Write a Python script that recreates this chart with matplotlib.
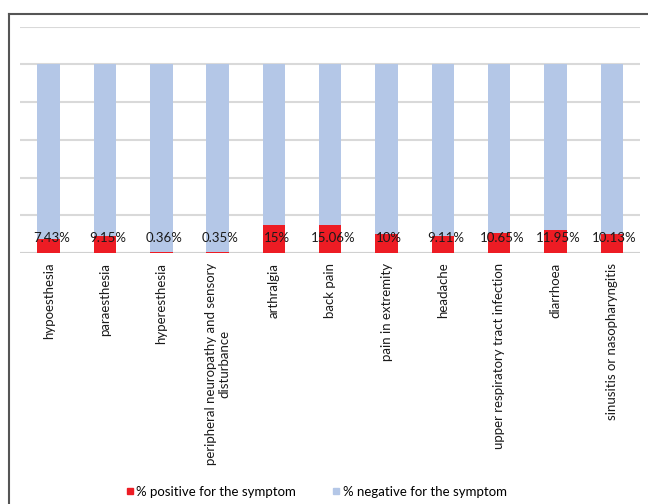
import matplotlib
matplotlib.use("Agg")
import matplotlib.pyplot as plt
from matplotlib.lines import Line2D
import numpy as np

categories = ["hypoesthesia", "paraesthesia", "hyperesthesia",
              "peripheral neuropathy and sensory\ndisturbance", "arthralgia",
              "back pain", "pain in extremity", "headache",
              "upper respiratory tract infection", "diarrhoea",
              "sinusitis or nasopharyngitis"]
positive = [7.43, 9.15, 0.36, 0.35, 15, 15.06, 10, 9.11, 10.65, 11.95, 10.13]
labels = ["7.43%", "9.15%", "0.36%", "0.35%", "15%", "15.06%", "10%",
          "9.11%", "10.65%", "11.95%", "10.13%"]
negative = [100 - p for p in positive]
series_names = ["% positive for the symptom", "% negative for the symptom"]

RED = "#ED1C24"
BLUE = "#B4C7E7"

plt.rcParams['font.family'] = ['Lato', 'DejaVu Sans']

fig = plt.figure(figsize=(6.48, 5.04), dpi=100)
ax = fig.add_axes([0.0316, 0.498, 0.956, 0.449])

x = np.arange(len(categories))
ax.bar(x, positive, width=0.4, color=RED, zorder=3, label=series_names[0])
ax.bar(x, negative, width=0.4, bottom=positive, color=BLUE, zorder=3,
       label=series_names[1])

for xi, lab in zip(x, labels):
    ax.text(xi + 0.05, 8, lab, ha="center", va="center", fontsize=9.5,
            color="#1a1a1a", zorder=4)

ax.set_ylim(0, 120)
ax.set_xlim(-0.5, len(categories) - 0.5)
ax.set_yticks(np.arange(0, 121, 20))
ax.set_yticklabels([])
ax.tick_params(axis="y", length=0)
ax.tick_params(axis="x", length=0, pad=7)
ax.yaxis.grid(True, color="#D9D9D9", linewidth=1.5, zorder=0)
for s in ax.spines.values():
    s.set_visible(False)
ax.axhline(0, color="#D0D0D0", linewidth=1.5, zorder=2)

ax.set_xticks(x)
ax.set_xticklabels(categories, rotation=90, fontsize=9.5,
                   multialignment="center", color="#1a1a1a")

handles = [Line2D([], [], marker="s", linestyle="none", markersize=5,
                  markerfacecolor=RED, markeredgecolor=RED),
           Line2D([], [], marker="s", linestyle="none", markersize=5,
                  markerfacecolor=BLUE, markeredgecolor=BLUE)]
fig.legend(handles, series_names, loc="center", ncol=2,
           bbox_to_anchor=(0.487, 0.024), frameon=False, fontsize=9.5,
           handletextpad=0.1, columnspacing=2.6, handlelength=0.8)

# chart area border (partially visible at left and top)
fig.add_artist(Line2D([9 / 648, 9 / 648], [0, 1 - 14 / 504],
                      transform=fig.transFigure, color="#555555", linewidth=1.5))
fig.add_artist(Line2D([9 / 648, 1], [1 - 14 / 504, 1 - 14 / 504],
                      transform=fig.transFigure, color="#555555", linewidth=1.5))

fig.savefig("out.png", dpi=100)
